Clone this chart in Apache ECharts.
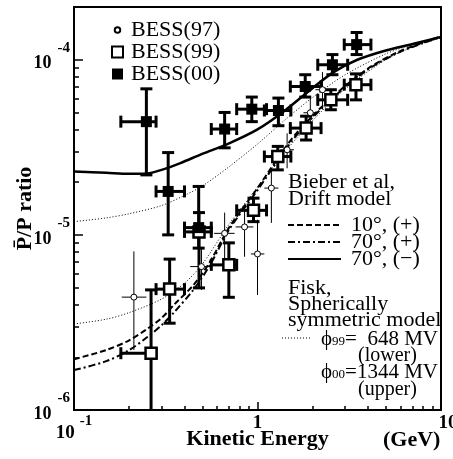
<!DOCTYPE html>
<html><head><meta charset="utf-8">
<script src="https://cdn.jsdelivr.net/npm/echarts@6/dist/echarts.min.js"></script>
<style>html,body{margin:0;padding:0;background:#fff}#c{width:453px;height:459px}</style>
</head><body><div id="c"></div>
<script>
// ---- axis ticks ----
const xMajorTicks = [0.1, 1, 10];
const xMinorTicks = [0.2,0.3,0.4,0.5,0.6,0.7,0.8,0.9,2,3,4,5,6,7,8,9];
const yMajorTicks = [1e-6, 1e-5, 1e-4];
const yMinorTicks = [2e-6,3e-6,4e-6,5e-6,6e-6,7e-6,8e-6,9e-6,2e-5,3e-5,4e-5,5e-5,6e-5,7e-5,8e-5,9e-5];

// ---- model curves ----
const eBieberPlus = [0.1,0.15,0.2,0.25,0.3,0.35,0.45,0.55,0.7,1.0,1.4,1.7,2.5,4.0,6.0,10];
const bieber10plus = [1.95e-6,2.2e-6,2.5e-6,2.9e-6,3.35e-6,3.98e-6,5.2e-6,7.0e-6,1.1e-5,1.85e-5,3.1e-5,4.0e-5,6.0e-5,8.9e-5,1.12e-4,1.36e-4];
const bieber70plus = [1.69e-6,1.9e-6,2.2e-6,2.6e-6,3.05e-6,3.6e-6,4.9e-6,6.7e-6,1.07e-5,1.8e-5,3.0e-5,3.9e-5,5.9e-5,8.8e-5,1.11e-4,1.35e-4];
const eBieberMinus = [0.1,0.15,0.2,0.25,0.3,0.38,0.5,0.7,1.0,1.4,2.0,2.6,3.5,5.0,7.0,10];
const bieber70minus = [2.30e-5,2.26e-5,2.23e-5,2.24e-5,2.35e-5,2.57e-5,2.9e-5,3.33e-5,4.0e-5,5.1e-5,6.9e-5,8.5e-5,1.0e-4,1.13e-4,1.23e-4,1.35e-4];
const eFisk = [0.1,0.15,0.2,0.3,0.4,0.5,0.7,1.0,1.4,2.0,3.0,5.0,7.0,10];
const fisk99 = [3.1e-6,3.3e-6,3.6e-6,4.3e-6,5.3e-6,6.8e-6,1.15e-5,1.87e-5,2.95e-5,4.5e-5,6.8e-5,1.0e-4,1.18e-4,1.33e-4];
const fisk00 = [1.19e-5,1.25e-5,1.32e-5,1.47e-5,1.68e-5,1.9e-5,2.45e-5,3.3e-5,4.5e-5,6.1e-5,8.2e-5,1.08e-4,1.22e-4,1.34e-4];

// ---- BESS data ----
const e97 = [0.212,0.495,0.662,0.85,1.0,1.19,1.45,1.94,2.26];
const e97Lo = [0.182,0.43,0.58,0.76,0.92,1.09,1.33,1.78,2.07];
const e97Hi = [0.248,0.56,0.75,0.95,1.09,1.30,1.58,2.12,2.46];
const r97 = [4.41e-6,6.59e-6,1.02e-5,1.11e-5,7.78e-6,1.85e-5,3.06e-5,4.98e-5,6.74e-5];
const r97Lo = [2.2e-6,4.85e-6,6.3e-6,7.5e-6,4.54e-6,1.17e-5,2.4e-5,3.9e-5,5.2e-5];
const r97Hi = [8.05e-6,8.4e-6,1.34e-5,1.45e-5,1.22e-5,2.35e-5,3.8e-5,6.2e-5,8.5e-5];

const e99 = [0.263,0.332,0.48,0.698,0.951,1.29,1.84,2.51,3.44];
const e99Lo = [0.18,0.28,0.40,0.56,0.77,1.09,1.51,2.13,2.97];
const e99Hi = [0.28,0.40,0.56,0.77,1.12,1.52,2.22,3.10,4.15];
const r99 = [2.11e-6,4.9e-6,1.04e-5,6.74e-6,1.38e-5,2.80e-5,4.07e-5,5.9e-5,7.2e-5];
const r99Lo = [8e-7,3.13e-6,4.98e-6,4.4e-6,1.19e-5,2.35e-5,3.48e-5,5.18e-5,5.9e-5];
const r99Hi = [4.85e-6,7.27e-6,1.34e-5,9.0e-6,1.62e-5,3.2e-5,4.76e-5,6.74e-5,8.3e-5];

const e00 = [0.248,0.326,0.478,0.662,0.931,1.30,1.82,2.56,3.47];
const e00Lo = [0.18,0.28,0.40,0.56,0.77,1.09,1.51,2.13,2.97];
const e00Hi = [0.28,0.40,0.56,0.77,1.12,1.52,2.22,3.10,4.15];
const r00 = [4.43e-5,1.77e-5,1.10e-5,4.02e-5,5.22e-5,5.13e-5,7.03e-5,9.36e-5,1.22e-4];
const r00Lo = [2.2e-5,1.0e-5,8.4e-6,3.14e-5,4.43e-5,4.2e-5,6.12e-5,8.21e-5,1.07e-4];
const r00Hi = [6.82e-5,2.95e-5,1.89e-5,5.0e-5,6.12e-5,6.04e-5,8.21e-5,1.07e-4,1.43e-4];

const SERIF = '"Liberation Serif", "Times New Roman", serif';
const pairs = (xs, ys) => xs.map((x, i) => [x, ys[i]]);
const errRows = (e, r, eLo, eHi, rLo, rHi) => e.map((x, i) => [x, r[i], eLo[i], eHi[i], rLo[i], rHi[i]]);

function errorBars(lw, cap) {
  return function (params, api) {
    const x = api.value(0), y = api.value(1);
    const cs = params.coordSys;
    const top = cs.y, bot = cs.y + cs.height;
    const c = api.coord([x, y]);
    const pl = api.coord([api.value(2), y]);
    const ph = api.coord([api.value(3), y]);
    const pLo = api.coord([x, api.value(4)]);
    const pHi = api.coord([x, api.value(5)]);
    const clipLo = pLo[1] > bot;
    const yl = Math.min(pLo[1], bot), yh = Math.max(pHi[1], top);
    const st = { stroke: '#000', lineWidth: lw, fill: null };
    const ch = [
      { type: 'line', shape: { x1: c[0], y1: yh, x2: c[0], y2: yl }, style: st },
      { type: 'line', shape: { x1: pl[0], y1: c[1], x2: ph[0], y2: c[1] }, style: st }
    ];
    if (cap > 0) {
      ch.push({ type: 'line', shape: { x1: c[0] - cap, y1: yh, x2: c[0] + cap, y2: yh }, style: st });
      if (!clipLo) ch.push({ type: 'line', shape: { x1: c[0] - cap, y1: yl, x2: c[0] + cap, y2: yl }, style: st });
      ch.push({ type: 'line', shape: { x1: pl[0], y1: c[1] - cap, x2: pl[0], y2: c[1] + cap }, style: st });
      ch.push({ type: 'line', shape: { x1: ph[0], y1: c[1] - cap, x2: ph[0], y2: c[1] + cap }, style: st });
    }
    return { type: 'group', children: ch };
  };
}

function decadeExp(v) {
  const l = Math.log10(v), p = Math.round(l);
  return Math.abs(l - p) < 1e-6 ? p : null;
}

const chart = echarts.init(document.getElementById('c'), null, { renderer: 'canvas' });
const tickLine = { color: '#000', width: 1.5 };

const option = {
  animation: false,
  backgroundColor: '#fff',
  textStyle: { fontFamily: SERIF, color: '#000' },
  grid: { left: 74, right: 12, top: 7, bottom: 49, show: true, borderColor: '#000', borderWidth: 2,
          backgroundColor: 'transparent', containLabel: false, outerBoundsMode: 'none' },
  legend: [
    {
      data: [
        { name: 'BESS(97)', icon: 'path://M0,0L0,0M12,12L12,12M6,3A3,3 0 1 1 5.99,3Z' },
        { name: 'BESS(99)' },
        { name: 'BESS(00)' }
      ],
      orient: 'vertical', left: 106, top: 14, itemWidth: 11, itemHeight: 11, itemGap: 0,
      selectedMode: false,
      textStyle: { fontFamily: SERIF, fontSize: 22, color: '#000', lineHeight: 21, padding: [0, 0, 0, 3] }
    },
    {
      data: ['10°, (+)', '70°, (+)', '70°, (−)'],
      orient: 'vertical', left: 282, top: 209, itemWidth: 53, itemHeight: 12, itemGap: -5,
      selectedMode: false,
      itemStyle: { opacity: 0, color: 'rgba(0,0,0,0)', borderWidth: 0 },
      textStyle: { fontFamily: SERIF, fontSize: 22, color: '#000', lineHeight: 17, padding: [0, 0, 0, 5] }
    }
  ],
  xAxis: [
    {
      type: 'log', logBase: 10, min: 0.1, max: 10, position: 'bottom',
      axisLine: { show: false }, splitLine: { show: false },
      axisTick: { inside: true, length: 8, lineStyle: tickLine, customValues: xMajorTicks },
      axisLabel: {
        customValues: xMajorTicks, margin: 4, color: '#000',
        formatter: function (v) {
          const p = decadeExp(v);
          if (p === null) return '';
          if (p === 0) return '{b|1}';
          if (p === 1) return '{r|10}';
          return '{b|10}{s|' + p + '}';
        },
        rich: {
          b: { fontFamily: SERIF, fontWeight: 'bold', fontSize: 19, color: '#000', verticalAlign: 'bottom' },
          r: { fontFamily: SERIF, fontWeight: 'bold', fontSize: 19, color: '#000', padding: [0, 0, 0, 14], verticalAlign: 'bottom' },
          s: { fontFamily: SERIF, fontWeight: 'bold', fontSize: 15, color: '#000', padding: [0, 0, 14, 5], verticalAlign: 'bottom' }
        }
      },
      name: 'Kinetic Energy', nameLocation: 'middle', nameGap: 18, nameMoveOverlap: false,
      nameTextStyle: { fontFamily: SERIF, fontWeight: 'bold', fontSize: 22, color: '#000' }
    },
    {
      type: 'log', logBase: 10, min: 0.1, max: 10, position: 'bottom',
      axisLine: { show: false }, splitLine: { show: false }, axisLabel: { show: false },
      axisTick: { inside: true, length: 4, lineStyle: tickLine, customValues: xMinorTicks }
    }
  ],
  yAxis: [
    {
      type: 'log', logBase: 10, min: 1e-6, max: 2e-4, position: 'left',
      axisLine: { show: false }, splitLine: { show: false },
      axisTick: { inside: true, length: 9, lineStyle: tickLine, customValues: yMajorTicks },
      axisLabel: {
        customValues: yMajorTicks, margin: 4, color: '#000', padding: [0, 0, 6, 0],
        formatter: function (v) {
          const p = decadeExp(v);
          if (p === null) return '';
          return '{b|10}{s|' + p + '}';
        },
        rich: {
          b: { fontFamily: SERIF, fontWeight: 'bold', fontSize: 18, color: '#000', verticalAlign: 'bottom' },
          s: { fontFamily: SERIF, fontWeight: 'bold', fontSize: 15, color: '#000', padding: [0, 0, 17, 6], verticalAlign: 'bottom' }
        }
      },
      name: 'P\u0304/P ratio', nameLocation: 'middle', nameGap: 38, nameMoveOverlap: false,
      nameTextStyle: { fontFamily: SERIF, fontWeight: 'bold', fontSize: 22, color: '#000' }
    },
    {
      type: 'log', logBase: 10, min: 1e-6, max: 2e-4, position: 'left',
      axisLine: { show: false }, splitLine: { show: false }, axisLabel: { show: false },
      axisTick: { inside: true, length: 5, lineStyle: tickLine, customValues: yMinorTicks }
    }
  ],
  series: [
    { name: '10°, (+)', type: 'line', data: pairs(eBieberPlus, bieber10plus), smooth: 0.3, symbol: 'none', z: 2,
      lineStyle: { color: '#000', width: 2, type: [6, 3] }, itemStyle: { color: '#000' } },
    { name: '70°, (+)', type: 'line', data: pairs(eBieberPlus, bieber70plus), smooth: 0.3, symbol: 'none', z: 2,
      lineStyle: { color: '#000', width: 2, type: [7, 3, 2, 3] }, itemStyle: { color: '#000' } },
    { name: '70°, (−)', type: 'line', data: pairs(eBieberMinus, bieber70minus), smooth: 0.3, symbol: 'none', z: 2,
      lineStyle: { color: '#000', width: 2.5 }, itemStyle: { color: '#000' } },
    { name: 'Fisk 648 MV', type: 'line', data: pairs(eFisk, fisk99), smooth: 0.3, symbol: 'none', z: 2,
      lineStyle: { color: '#000', width: 1, type: [1, 2] } },
    { name: 'Fisk 1344 MV', type: 'line', data: pairs(eFisk, fisk00), smooth: 0.3, symbol: 'none', z: 2,
      lineStyle: { color: '#000', width: 1, type: [1, 2] } },

    { name: 'err97', type: 'custom', renderItem: errorBars(1, 0), z: 3, encode: { x: 0, y: 1 },
      data: errRows(e97, r97, e97Lo, e97Hi, r97Lo, r97Hi) },
    { name: 'err99', type: 'custom', renderItem: errorBars(3, 6), z: 3, encode: { x: 0, y: 1 },
      data: errRows(e99, r99, e99Lo, e99Hi, r99Lo, r99Hi) },
    { name: 'err00', type: 'custom', renderItem: errorBars(3, 6), z: 3, encode: { x: 0, y: 1 },
      data: errRows(e00, r00, e00Lo, e00Hi, r00Lo, r00Hi) },

    { name: 'BESS(97)', type: 'scatter', data: pairs(e97, r97), symbol: 'circle', symbolSize: 6, z: 5,
      itemStyle: { color: '#fff', borderColor: '#000', borderWidth: 1, opacity: 1 } },
    { name: 'BESS(99)', type: 'scatter', data: pairs(e99, r99), symbol: 'rect', symbolSize: 11, z: 5,
      itemStyle: { color: '#fff', borderColor: '#000', borderWidth: 2.5, opacity: 1 } },
    { name: 'BESS(00)', type: 'scatter', data: pairs(e00, r00), symbol: 'rect', symbolSize: 11, z: 6,
      itemStyle: { color: '#000', borderColor: '#000', borderWidth: 0, opacity: 1 } }
  ],
  graphic: [
    { type: 'text', x: 288, y: 182, style: { text: 'Bieber et al,', fontFamily: SERIF, fontSize: 22, fill: '#000', verticalAlign: 'middle' } },
    { type: 'text', x: 288, y: 199, style: { text: 'Drift model', fontFamily: SERIF, fontSize: 22, fill: '#000', verticalAlign: 'middle' } },
    { type: 'text', x: 288, y: 288, style: { text: 'Fisk,', fontFamily: SERIF, fontSize: 22, fill: '#000', verticalAlign: 'middle' } },
    { type: 'text', x: 288, y: 304, style: { text: 'Spherically', fontFamily: SERIF, fontSize: 22, fill: '#000', verticalAlign: 'middle' } },
    { type: 'text', x: 288, y: 320, style: { text: 'symmetric model', fontFamily: SERIF, fontSize: 22, fill: '#000', verticalAlign: 'middle' } },
    { type: 'line', shape: { x1: 282, y1: 338, x2: 312, y2: 338 }, style: { stroke: '#000', lineWidth: 1, lineDash: [1, 2] } },
    { type: 'text', x: 321, y: 342, style: {
        text: '{p|\u03D5}{sub|99}{n|=  648 MV}', verticalAlign: 'middle',
        rich: {
          p: { fontFamily: SERIF, fontSize: 21, fill: '#000', padding: [0, 0, 5, 0] },
          sub: { fontFamily: SERIF, fontSize: 13, fill: '#000' },
          n: { fontFamily: SERIF, fontSize: 21, fill: '#000', padding: [0, 0, 5, 0] }
        } } },
    { type: 'text', x: 358, y: 356, style: { text: '(lower)', fontFamily: SERIF, fontSize: 20, fill: '#000', verticalAlign: 'middle' } },
    { type: 'text', x: 321, y: 375, style: {
        text: '{p|\u03D5}{sub|00}{n|=1344 MV}', verticalAlign: 'middle',
        rich: {
          p: { fontFamily: SERIF, fontSize: 21, fill: '#000', padding: [0, 0, 5, 0] },
          sub: { fontFamily: SERIF, fontSize: 13, fill: '#000' },
          n: { fontFamily: SERIF, fontSize: 21, fill: '#000', padding: [0, 0, 5, 0] }
        } } },
    { type: 'text', x: 358, y: 390, style: { text: '(upper)', fontFamily: SERIF, fontSize: 20, fill: '#000', verticalAlign: 'middle' } },
    { type: 'text', x: 383, y: 440, style: { text: '(GeV)', fontFamily: SERIF, fontSize: 22, fontWeight: 'bold', fill: '#000', verticalAlign: 'middle' } }
  ]
};
chart.setOption(option);
</script>
</body></html>
